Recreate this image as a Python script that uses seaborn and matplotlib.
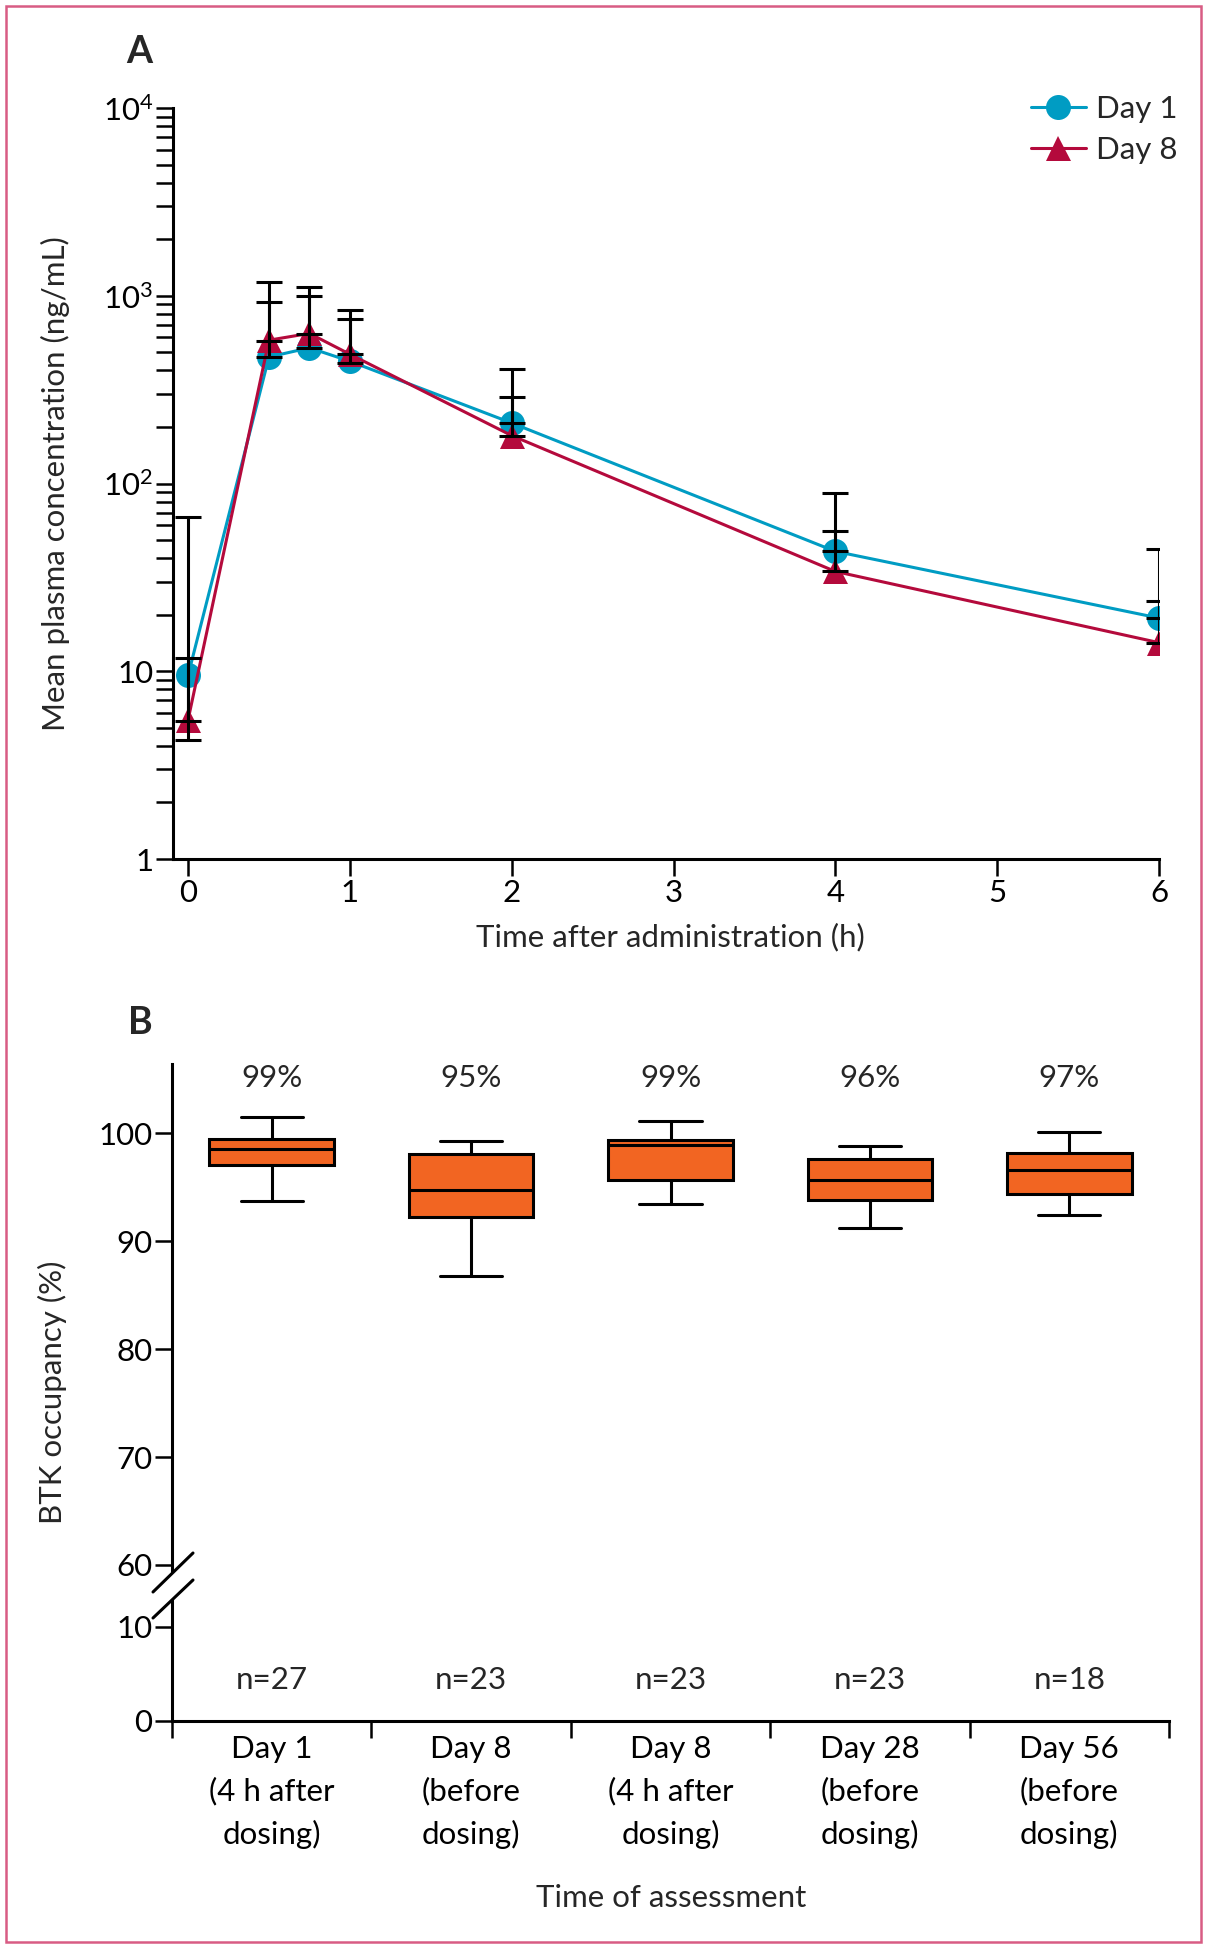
import numpy as np
import pandas as pd
import matplotlib
matplotlib.use("Agg")
import matplotlib.pyplot as plt
import matplotlib.ticker as mticker
from matplotlib.lines import Line2D
from matplotlib.patches import Rectangle
import seaborn as sns

# --- Panel A data: mean plasma concentration (ng/mL) ---
time_h = [0, 0.5, 0.75, 1, 2, 4, 6]
day1_mean = [9.5, 472, 528, 448, 210, 43.5, 19.2]
day8_mean = [5.5, 580, 630, 488, 180, 34, 14.2]
# error bar ends (black bars)
day1_hi = [66, 1185, 1115, 840, 408, 89, 45]
day1_lo = [4.3, 472, 528, 440, 210, 43.5, 19.2]
day8_hi = [11.7, 925, 1000, 752, 290, 56, 23.7]
day8_lo = [5.4, 575, 627, 488, 180, 34, 14.2]

# --- Panel B data: BTK occupancy box summaries ---
categories = ["Day 1\n(4 h after\ndosing)", "Day 8\n(before\ndosing)",
              "Day 8\n(4 h after\ndosing)", "Day 28\n(before\ndosing)",
              "Day 56\n(before\ndosing)"]
whisk_lo = [93.7, 86.8, 93.5, 91.2, 92.4]
q1 = [97.1, 92.3, 95.7, 93.8, 94.4]
median = [98.6, 94.8, 98.9, 95.7, 96.6]
q3 = [99.5, 98.1, 99.4, 97.6, 98.2]
whisk_hi = [101.5, 99.3, 101.2, 98.8, 100.1]
pct_labels = ["99%", "95%", "99%", "96%", "97%"]
n_labels = ["n=27", "n=23", "n=23", "n=23", "n=18"]

CYAN = "#009CC3"
RED = "#B40A3C"
ORANGE = "#F26522"
PINK = "#D85C84"

sns.set_theme(style="ticks")
plt.rcParams["font.family"] = ["Lato", "DejaVu Sans"]
plt.rcParams["mathtext.fontset"] = "custom"
plt.rcParams["mathtext.rm"] = "Lato"
plt.rcParams["axes.linewidth"] = 2.2

W, H = 1210, 1950
fig = plt.figure(figsize=(W / 100, H / 100), dpi=100)


def fx(px):
    return px / W


def fy(py):
    return 1 - py / H


FS = 22.5
TICK_LEN = 12.2
TICK_W = 1.8

# --- Panel A ---
axA = fig.add_axes([fx(173), fy(859), (1159 - 173) / W, (859 - 108) / H])
dfA = pd.DataFrame({
    "time": time_h * 2,
    "conc": day1_mean + day8_mean,
    "day": ["Day 1"] * len(time_h) + ["Day 8"] * len(time_h),
})
sns.lineplot(data=dfA, x="time", y="conc", hue="day", style="day",
             markers={"Day 1": "o", "Day 8": "^"}, dashes=False,
             palette={"Day 1": CYAN, "Day 8": RED}, markersize=18,
             markeredgewidth=0, linewidth=2.2, errorbar=None,
             legend=False, ax=axA)
line_handles = list(axA.lines[:2])
for ln in line_handles:
    ln.set_markersize(18)
    ln.set_markeredgewidth(0)

for mean, lo, hi in [(day1_mean, day1_lo, day1_hi), (day8_mean, day8_lo, day8_hi)]:
    mean = np.array(mean)
    yerr = [np.clip(mean - np.array(lo), 0, None), np.clip(np.array(hi) - mean, 0, None)]
    axA.errorbar(time_h, mean, yerr=yerr, fmt="none", ecolor="black",
                 elinewidth=2.2, capsize=9.5, capthick=2.2, zorder=5)

axA.set_yscale("log")
axA.set_ylim(1, 1e4)
axA.set_xlim(-0.093, 6)
axA.set_xticks(range(7))
axA.set_yticks([1, 10, 100, 1000, 10000])
axA.set_yticklabels(["1", "10", r"$\mathregular{10^2}$", r"$\mathregular{10^3}$",
                     r"$\mathregular{10^4}$"])
axA.yaxis.set_minor_locator(mticker.LogLocator(base=10, subs=np.arange(2, 10)))
axA.yaxis.set_minor_formatter(mticker.NullFormatter())
axA.tick_params(axis="both", which="both", length=TICK_LEN, width=TICK_W,
                color="black", labelsize=FS, labelcolor="black", pad=2)
axA.set_xlabel("")
axA.set_ylabel("")
sns.despine(ax=axA)
for s in ["left", "bottom"]:
    axA.spines[s].set_linewidth(2.2)
    axA.spines[s].set_color("black")

axA.legend(handles=line_handles, labels=["Day 1", "Day 8"], loc="upper left",
           bbox_to_anchor=(fx(1031), fy(95)), bbox_transform=fig.transFigure,
           frameon=False, fontsize=FS, handlelength=1.75, handletextpad=0.32,
           borderpad=0, borderaxespad=0, labelspacing=0.42)

fig.text(fx(55), fy(484), "Mean plasma concentration (ng/mL)", rotation=90,
         ha="center", va="center", fontsize=FS)
fig.text(fx(670), fy(937), "Time after administration (h)", ha="center",
         va="center", fontsize=FS)
fig.text(fx(139), fy(52), "A", ha="center", va="center", fontsize=27,
         fontweight="bold")

# --- Panel B ---
axU = fig.add_axes([fx(172), fy(1571), (1169 - 172) / W, (1571 - 1064) / H])
axL = fig.add_axes([fx(172), fy(1721), (1169 - 172) / W, (1721 - 1600) / H])

rows = []
for c, a, b, m, d, e in zip(categories, whisk_lo, q1, median, q3, whisk_hi):
    for v in (a, b, m, d, e):
        rows.append({"cat": c, "val": v})
dfB = pd.DataFrame(rows)

sns.boxplot(data=dfB, x="cat", y="val", ax=axU, color=ORANGE, saturation=1,
            width=0.625, whis=(0, 100), linecolor="black", linewidth=2.2,
            fliersize=0)

axU.set_xlim(-0.5, 4.5)
axU.set_ylim(59.44, 106.44)
axU.set_yticks([60, 70, 80, 90, 100])
axU.set_xlabel("")
axU.set_ylabel("")
axU.tick_params(axis="y", length=TICK_LEN, width=TICK_W, color="black",
                labelsize=FS, labelcolor="black", pad=2)
axU.tick_params(axis="x", bottom=False, labelbottom=False)
for s in ["top", "right", "bottom"]:
    axU.spines[s].set_visible(False)
axU.spines["left"].set_linewidth(2.2)
axU.spines["left"].set_color("black")

for i, p in enumerate(pct_labels):
    axU.text(i, 105.1, p, ha="center", va="center", fontsize=FS)

axL.set_xlim(-0.5, 4.5)
axL.set_ylim(0, 12.87)
axL.set_yticks([0, 10])
axL.set_xticks(np.arange(-0.5, 5, 1))
axL.set_xticklabels([])
axL.set_xticks(range(len(categories)), minor=True)
axL.set_xticklabels(categories, minor=True, fontsize=FS, linespacing=1.6)
axL.tick_params(axis="x", which="major", length=TICK_LEN, width=TICK_W, color="black")
axL.tick_params(axis="x", which="minor", length=0, pad=10, labelcolor="black")
axL.tick_params(axis="y", length=TICK_LEN, width=TICK_W, color="black",
                labelsize=FS, labelcolor="black", pad=2)
for s in ["top", "right"]:
    axL.spines[s].set_visible(False)
for s in ["left", "bottom"]:
    axL.spines[s].set_linewidth(2.2)
    axL.spines[s].set_color("black")

for i, t in enumerate(n_labels):
    axL.text(i, 4.4, t, ha="center", va="center", fontsize=FS)

# axis break marks
for (x0, y0, x1, y1) in [(153, 1592, 193, 1553), (153, 1618, 193, 1580)]:
    fig.add_artist(Line2D([fx(x0), fx(x1)], [fy(y0), fy(y1)],
                          transform=fig.transFigure, color="black", lw=2.2))

fig.text(fx(52), fy(1392), "BTK occupancy (%)", rotation=90, ha="center",
         va="center", fontsize=FS)
fig.text(fx(671), fy(1898), "Time of assessment", ha="center", va="center",
         fontsize=FS)
fig.text(fx(140), fy(1023), "B", ha="center", va="center", fontsize=27,
         fontweight="bold")

# pink frame
fig.patches.append(Rectangle((fx(6), fy(1942)), (1201 - 6) / W, (1942 - 6) / H,
                             transform=fig.transFigure, fill=False,
                             edgecolor=PINK, lw=1.8))

fig.savefig("out.png", dpi=100)
